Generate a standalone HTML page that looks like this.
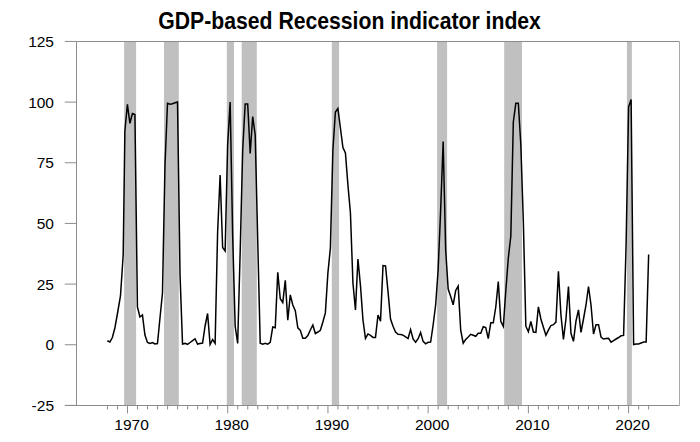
<!DOCTYPE html>
<html><head><meta charset="utf-8"><style>
html,body{margin:0;padding:0;background:#fff;}
body{width:700px;height:442px;overflow:hidden;position:relative;}
svg{position:absolute;left:0;top:0;}
text{font-family:"Liberation Sans",sans-serif;}
</style></head><body>
<svg width="700" height="442" viewBox="0 0 700 442">
<text transform="translate(349.6 28.9) scale(1 1.09)" text-anchor="middle" font-size="21.2" font-weight="bold" fill="#000">GDP-based Recession indicator index</text>
<rect x="124.1" y="41.5" width="12.00" height="364.0" fill="#c0c0c0"/>
<rect x="164.0" y="41.5" width="14.80" height="364.0" fill="#c0c0c0"/>
<rect x="226.8" y="41.5" width="7.20" height="364.0" fill="#c0c0c0"/>
<rect x="241.7" y="41.5" width="15.10" height="364.0" fill="#c0c0c0"/>
<rect x="331.8" y="41.5" width="7.30" height="364.0" fill="#c0c0c0"/>
<rect x="437.1" y="41.5" width="10.00" height="364.0" fill="#c0c0c0"/>
<rect x="504.2" y="41.5" width="17.80" height="364.0" fill="#c0c0c0"/>
<rect x="626.9" y="41.5" width="5.00" height="364.0" fill="#c0c0c0"/>
<g stroke="#8c8c8c" stroke-width="1" fill="none">
<line x1="65" y1="405.5" x2="679.5" y2="405.5"/>
<line x1="76.5" y1="41.5" x2="76.5" y2="405.5"/>
<line x1="76.5" y1="41.5" x2="679.5" y2="41.5"/>
<line x1="679.5" y1="41.5" x2="679.5" y2="405.5" stroke="#a8a8a8"/>
<line x1="64.8" y1="41.45" x2="76.5" y2="41.45"/>
<line x1="64.8" y1="102.11" x2="76.5" y2="102.11"/>
<line x1="64.8" y1="162.76" x2="76.5" y2="162.76"/>
<line x1="64.8" y1="223.42" x2="76.5" y2="223.42"/>
<line x1="64.8" y1="284.08" x2="76.5" y2="284.08"/>
<line x1="64.8" y1="344.74" x2="76.5" y2="344.74"/>
<line x1="64.8" y1="405.39" x2="76.5" y2="405.39"/>
<line x1="107.46" y1="405.5" x2="107.46" y2="409.5"/>
<line x1="117.48" y1="405.5" x2="117.48" y2="409.5"/>
<line x1="127.50" y1="405.5" x2="127.50" y2="413.3"/>
<line x1="137.52" y1="405.5" x2="137.52" y2="409.5"/>
<line x1="147.54" y1="405.5" x2="147.54" y2="409.5"/>
<line x1="157.57" y1="405.5" x2="157.57" y2="409.5"/>
<line x1="167.59" y1="405.5" x2="167.59" y2="409.5"/>
<line x1="177.61" y1="405.5" x2="177.61" y2="409.5"/>
<line x1="187.63" y1="405.5" x2="187.63" y2="409.5"/>
<line x1="197.65" y1="405.5" x2="197.65" y2="409.5"/>
<line x1="207.68" y1="405.5" x2="207.68" y2="409.5"/>
<line x1="217.70" y1="405.5" x2="217.70" y2="409.5"/>
<line x1="227.72" y1="405.5" x2="227.72" y2="413.3"/>
<line x1="237.74" y1="405.5" x2="237.74" y2="409.5"/>
<line x1="247.76" y1="405.5" x2="247.76" y2="409.5"/>
<line x1="257.79" y1="405.5" x2="257.79" y2="409.5"/>
<line x1="267.81" y1="405.5" x2="267.81" y2="409.5"/>
<line x1="277.83" y1="405.5" x2="277.83" y2="409.5"/>
<line x1="287.85" y1="405.5" x2="287.85" y2="409.5"/>
<line x1="297.87" y1="405.5" x2="297.87" y2="409.5"/>
<line x1="307.90" y1="405.5" x2="307.90" y2="409.5"/>
<line x1="317.92" y1="405.5" x2="317.92" y2="409.5"/>
<line x1="327.94" y1="405.5" x2="327.94" y2="413.3"/>
<line x1="337.96" y1="405.5" x2="337.96" y2="409.5"/>
<line x1="347.98" y1="405.5" x2="347.98" y2="409.5"/>
<line x1="358.01" y1="405.5" x2="358.01" y2="409.5"/>
<line x1="368.03" y1="405.5" x2="368.03" y2="409.5"/>
<line x1="378.05" y1="405.5" x2="378.05" y2="409.5"/>
<line x1="388.07" y1="405.5" x2="388.07" y2="409.5"/>
<line x1="398.09" y1="405.5" x2="398.09" y2="409.5"/>
<line x1="408.12" y1="405.5" x2="408.12" y2="409.5"/>
<line x1="418.14" y1="405.5" x2="418.14" y2="409.5"/>
<line x1="428.16" y1="405.5" x2="428.16" y2="413.3"/>
<line x1="438.18" y1="405.5" x2="438.18" y2="409.5"/>
<line x1="448.20" y1="405.5" x2="448.20" y2="409.5"/>
<line x1="458.23" y1="405.5" x2="458.23" y2="409.5"/>
<line x1="468.25" y1="405.5" x2="468.25" y2="409.5"/>
<line x1="478.27" y1="405.5" x2="478.27" y2="409.5"/>
<line x1="488.29" y1="405.5" x2="488.29" y2="409.5"/>
<line x1="498.31" y1="405.5" x2="498.31" y2="409.5"/>
<line x1="508.34" y1="405.5" x2="508.34" y2="409.5"/>
<line x1="518.36" y1="405.5" x2="518.36" y2="409.5"/>
<line x1="528.38" y1="405.5" x2="528.38" y2="413.3"/>
<line x1="538.40" y1="405.5" x2="538.40" y2="409.5"/>
<line x1="548.42" y1="405.5" x2="548.42" y2="409.5"/>
<line x1="558.45" y1="405.5" x2="558.45" y2="409.5"/>
<line x1="568.47" y1="405.5" x2="568.47" y2="409.5"/>
<line x1="578.49" y1="405.5" x2="578.49" y2="409.5"/>
<line x1="588.51" y1="405.5" x2="588.51" y2="409.5"/>
<line x1="598.53" y1="405.5" x2="598.53" y2="409.5"/>
<line x1="608.56" y1="405.5" x2="608.56" y2="409.5"/>
<line x1="618.58" y1="405.5" x2="618.58" y2="409.5"/>
<line x1="628.60" y1="405.5" x2="628.60" y2="413.3"/>
<line x1="638.62" y1="405.5" x2="638.62" y2="409.5"/>
<line x1="648.64" y1="405.5" x2="648.64" y2="409.5"/>
</g>
<g font-size="15.5" fill="#000">
<text transform="translate(54 46.95) scale(1 1.0)" text-anchor="end">125</text>
<text transform="translate(54 107.61) scale(1 1.0)" text-anchor="end">100</text>
<text transform="translate(54 168.26) scale(1 1.0)" text-anchor="end">75</text>
<text transform="translate(54 228.92) scale(1 1.0)" text-anchor="end">50</text>
<text transform="translate(54 289.58) scale(1 1.0)" text-anchor="end">25</text>
<text transform="translate(54 350.24) scale(1 1.0)" text-anchor="end">0</text>
<text transform="translate(54 410.89) scale(1 1.0)" text-anchor="end">-25</text>
<text transform="translate(131.50 430) scale(1 1.0)" text-anchor="middle">1970</text>
<text transform="translate(231.72 430) scale(1 1.0)" text-anchor="middle">1980</text>
<text transform="translate(331.94 430) scale(1 1.0)" text-anchor="middle">1990</text>
<text transform="translate(432.16 430) scale(1 1.0)" text-anchor="middle">2000</text>
<text transform="translate(532.38 430) scale(1 1.0)" text-anchor="middle">2010</text>
<text transform="translate(632.60 430) scale(1 1.0)" text-anchor="middle">2020</text>
</g>
<polyline points="107.35,340.8 109.86,342 112.36,337.5 114.87,328 117.38,314 120.48,296 123.19,255 124.89,131 127.40,104.3 129.91,123.3 132.41,113.5 134.92,114.5 137.42,307 139.93,317 142.44,315 144.94,335 147.45,342.5 149.95,343.5 152.46,342.5 154.97,344 157.47,343.5 159.98,318 162.48,293 164.99,165 167.50,103.3 170.00,104.3 172.51,103.8 175.01,102.8 177.52,102.1 180.03,275 182.53,344 185.04,343.4 187.54,344.3 190.05,342.5 192.56,340.7 195.06,338.8 197.57,344.1 200.07,343.5 202.58,343 205.09,326 207.59,313.5 210.10,344.5 212.60,339.5 215.11,343.3 217.62,232 220.12,175 222.63,247.5 225.13,251 227.64,145 230.15,102 232.65,235 235.16,326 237.66,343.5 240.17,252 242.68,150 245.18,104 247.69,104 250.19,153.5 252.70,116.5 255.21,135 257.71,240 260.22,343.3 262.72,344.2 265.23,343.3 267.74,344.2 270.24,342.4 272.75,327 275.25,327.8 277.76,272.4 280.27,298.7 282.77,302.5 285.28,280.3 287.78,320.2 290.29,294.9 292.80,305 295.30,310.7 297.81,327.8 300.31,330.3 302.82,338.2 305.33,338.2 307.83,335.5 310.34,330 312.84,325 315.35,333.5 317.86,332 320.36,330.3 322.87,322 325.37,312.9 327.88,273.3 330.39,248 332.89,150 335.40,112 337.90,108.5 340.41,128 342.92,147.5 345.42,153 347.93,185 350.43,213 352.94,283 355.45,310 357.95,259.1 360.46,285.5 362.96,320 365.47,338.4 367.98,333.9 370.48,335.3 372.99,337.4 375.49,337.4 378.00,315 380.51,321.1 383.01,265.5 385.52,265.8 388.02,291.6 390.53,319.1 393.04,326.2 395.54,332 398.05,334.3 400.55,334.4 403.06,335.2 405.57,336.8 408.07,338.5 410.58,329.6 413.08,339 415.59,342.3 418.10,338.7 420.60,332.6 423.11,341.4 425.61,343.8 428.12,342.3 430.63,342 433.13,325 435.64,305 438.14,270 440.65,210 443.16,141.5 445.66,250 448.17,289 450.67,296.6 453.18,304.8 455.69,290.5 458.19,286.1 460.70,330.2 463.20,343.2 465.71,339.4 468.22,337 470.72,334.3 473.23,335.3 475.73,336.3 478.24,333.3 480.75,333.2 483.25,326.8 485.76,327.6 488.26,338.6 490.77,322.8 493.28,322.8 495.78,307 498.29,281.6 500.79,321.4 503.30,326.5 505.81,290.8 508.31,258.2 510.82,236 513.32,122 515.83,103.3 518.34,103.3 520.84,145 523.35,222 525.85,326.2 528.36,331.7 530.87,321.5 533.37,332 535.88,332.3 538.38,306.8 540.89,319 543.40,327.2 545.90,335.3 548.41,330.2 550.91,325.5 553.42,324.7 555.93,322.1 558.43,271.2 560.94,315 563.44,339.4 565.95,319 568.46,286.5 570.96,333.3 573.47,341.4 575.97,321.1 578.48,309.9 580.99,332.3 583.49,319 586.00,305 588.50,286.5 591.01,305 593.52,334 596.02,324.7 598.53,324.7 601.03,337 603.54,339 606.05,338.5 608.55,338.3 611.06,342.2 613.56,340.6 616.07,339 618.58,337.5 621.08,335.8 623.59,335.4 626.09,245 628.60,107 631.11,99.5 633.61,344.5 636.12,344 638.62,344 641.13,343 643.64,342 646.14,342 648.65,254.5" fill="none" stroke="#000" stroke-width="1.5" stroke-linejoin="miter" stroke-miterlimit="4"/>
</svg>
</body></html>
